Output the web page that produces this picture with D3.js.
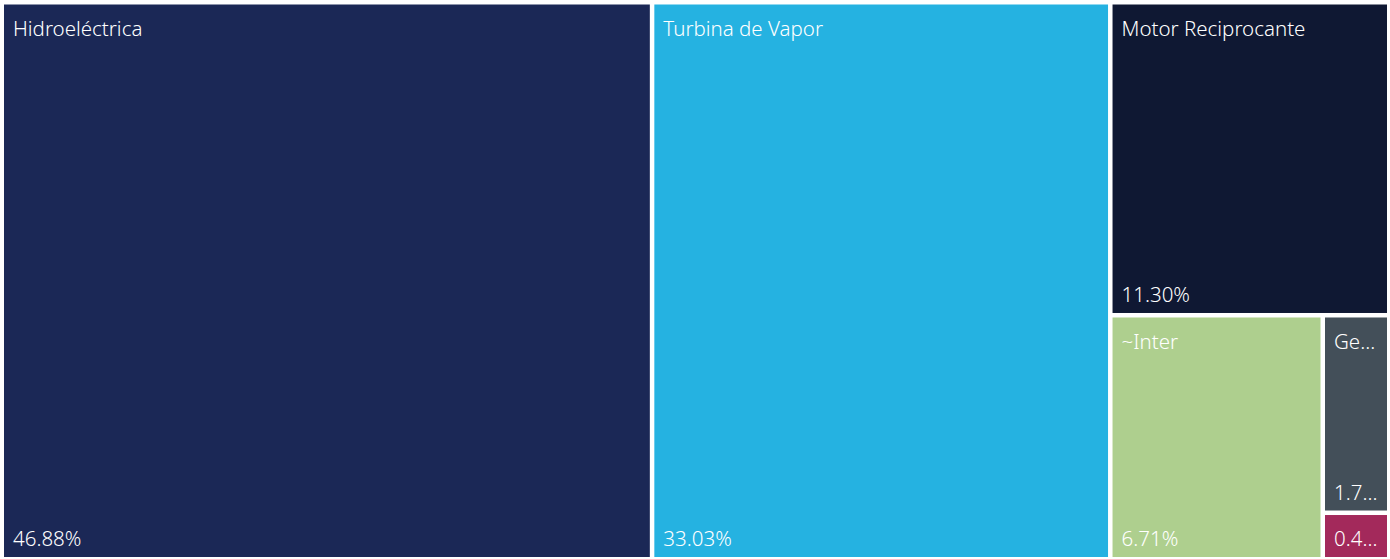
<!DOCTYPE html>
<html>
<head>
<meta charset="utf-8">
<script src="https://cdn.jsdelivr.net/npm/d3@7"></script>
<style>
  html, body { margin: 0; padding: 0; background: #ffffff; }
  svg { display: block; }
  text { font-family: "Segoe UI", "Noto Sans", "Open Sans", sans-serif; font-weight: 350; fill: #ffffff; }
</style>
</head>
<body>
<svg id="chart" width="1390" height="559"></svg>
<script>
// Generation share by technology (percent)
const categories = ["Hidroeléctrica", "Turbina de Vapor", "Motor Reciprocante", "~Inter", "Geotérmica", "Turbina de Gas"];
const shares = [46.88, 33.03, 11.30, 6.71, 1.70, 0.40];
const colors = ["#1b2856", "#25b2e1", "#0f1833", "#aecf8e", "#434f59", "#a3295b"];

const svg = d3.select("#chart");

const root = d3.hierarchy({ children: categories.map((c, i) => ({ name: c, value: shares[i], color: colors[i] })) })
  .sum(d => d.value || 0)
  .sort((a, b) => b.value - a.value);

d3.treemap()
  .tile(d3.treemapSquarify.ratio(1))
  .size([1383, 552.5])
  .paddingInner(4.5)
  .round(false)(root);

const g = svg.append("g").attr("transform", "translate(4,4.5)");

const cell = g.selectAll("g.cell")
  .data(root.leaves())
  .join("g")
  .attr("class", "cell")
  .attr("transform", d => `translate(${d.x0},${d.y0})`);

cell.append("rect")
  .attr("width", d => d.x1 - d.x0)
  .attr("height", d => d.y1 - d.y0)
  .attr("fill", d => d.data.color);

const fontSize = 20.5;
const padX = 9;

// Shorten a label with an ellipsis until it fits inside the tile
function fit(sel, maxW) {
  sel.each(function () {
    const t = d3.select(this);
    const full = t.text();
    if (this.getComputedTextLength() <= maxW) return;
    let s = full;
    while (s.length > 0) {
      s = s.slice(0, -1);
      t.text(s + "…");
      if (this.getComputedTextLength() <= maxW) return;
    }
    t.text("");
  });
}

cell.each(function (d) {
  const c = d3.select(this);
  const w = d.x1 - d.x0, h = d.y1 - d.y0;
  const tall = h > 80;
  if (tall) {
    c.append("text")
      .attr("x", padX)
      .attr("y", 31.5)
      .attr("font-size", fontSize)
      .text(d.data.name)
      .call(fit, w - padX - 4);
  }
  c.append("text")
    .attr("x", padX)
    .attr("y", h - 11)
    .attr("font-size", fontSize)
    .text(d.data.value.toFixed(2) + "%")
    .call(fit, w - padX - 4);
});
</script>
</body>
</html>
